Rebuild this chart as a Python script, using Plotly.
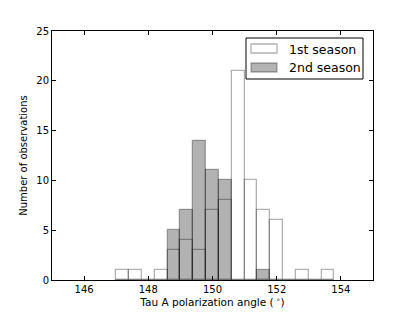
import plotly.graph_objects as go

# ---- data ----
bin_width = 0.4
bin_left_edges = [147.0, 147.4, 147.8, 148.2, 148.6, 149.0, 149.4, 149.8, 150.2,
                  150.6, 151.0, 151.4, 151.8, 152.2, 152.6, 153.0, 153.4]
season1_counts = [1, 1, 0, 1, 3, 4, 3, 7, 8, 21, 10, 7, 6, 0, 1, 0, 1]
season2_counts = [0, 0, 0, 0, 5, 7, 14, 11, 10, 0, 0, 1, 0, 0, 0, 0, 0]
series_names = ["1st season", "2nd season"]
x_ticks = [146, 148, 150, 152, 154]
y_ticks = [0, 5, 10, 15, 20, 25]

centers = [e + bin_width / 2 for e in bin_left_edges]

W, H = 415, 312
L, R, T, B = 52, 42, 31, 32
PW, PH = W - L - R, H - T - B

def px(x):
    return (x - L) / PW

def py(y):
    return (H - B - y) / PH

fig = go.Figure()
fig.add_trace(go.Bar(
    x=centers, y=season1_counts, width=bin_width, name=series_names[0],
    marker=dict(color="rgba(255,255,255,0.3)",
                line=dict(color="rgba(0,0,0,0.3)", width=1.3)),
    showlegend=False,
))
fig.add_trace(go.Bar(
    x=centers, y=season2_counts, width=bin_width, name=series_names[1],
    marker=dict(color="rgba(0,0,0,0.3)",
                line=dict(color="rgba(0,0,0,0.3)", width=1.3)),
    showlegend=False,
))

font = "DejaVu Sans, Arial, sans-serif"
axis_common = dict(
    showgrid=False, zeroline=False, showline=True, linecolor="black", linewidth=1,
    mirror="allticks", ticks="inside", ticklen=4, tickcolor="black",
    tickfont=dict(family=font, size=10, color="black"), automargin=False,
)
fig.update_layout(
    width=W, height=H, margin=dict(l=L, r=R, t=T, b=B),
    paper_bgcolor="white", plot_bgcolor="white",
    barmode="overlay", bargap=0,
    font=dict(family=font, color="black"),
    xaxis=dict(range=[145, 155], tickvals=x_ticks,
               title=dict(text="Tau A polarization angle (<sup> ∘</sup>)",
                          font=dict(family=font, size=10.5), standoff=4),
               **axis_common),
    yaxis=dict(range=[0, 25], tickvals=y_ticks,
               title=dict(text="Number of observations",
                          font=dict(family=font, size=10), standoff=6),
               **axis_common),
)

# legend drawn matplotlib-style
shapes = [
    dict(type="rect", xref="paper", yref="paper", x0=px(246), x1=px(363),
         y0=py(79), y1=py(38), line=dict(color="black", width=1), fillcolor="white",
         layer="above"),
    dict(type="rect", xref="paper", yref="paper", x0=px(251), x1=px(277),
         y0=py(53), y1=py(44), line=dict(color="rgba(0,0,0,0.3)", width=1.3),
         fillcolor="white", layer="above"),
    dict(type="rect", xref="paper", yref="paper", x0=px(251), x1=px(277),
         y0=py(72), y1=py(63), line=dict(color="rgba(0,0,0,0.3)", width=1.3),
         fillcolor="#b3b3b3", layer="above"),
]
fig.update_layout(shapes=shapes)
for name, yc in zip(series_names, [49, 67.5]):
    fig.add_annotation(text=name, xref="paper", yref="paper", x=px(287), y=py(yc),
                       xanchor="left", yanchor="middle", showarrow=False,
                       font=dict(family=font, size=12.5, color="black"))

fig.write_html("out.html", config={"displayModeBar": False},
               post_script="document.body.style.margin='0';document.body.style.overflow='hidden';")
